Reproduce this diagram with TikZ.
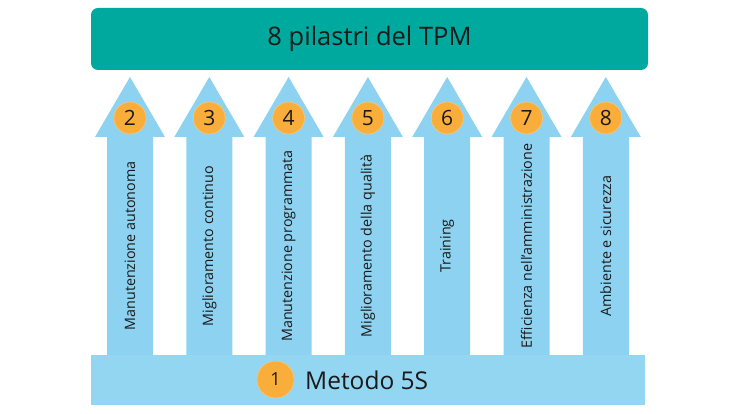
\documentclass[tikz,border=0pt]{standalone}
\usepackage{fontspec}
\setmainfont{Open Sans}
\definecolor{teal1}{HTML}{00A99D}
\definecolor{arrowblue}{HTML}{8DD2F0}
\definecolor{baseblue}{HTML}{93D6F2}
\definecolor{orange1}{HTML}{F9AE3B}
\definecolor{txt}{HTML}{1A1A1A}
\tikzset{
  pillar/.style={fill=arrowblue, draw=none},
  numdot/.style={circle, fill=orange1, draw=orange1!70!white, line width=0.6pt, minimum size=32pt, inner sep=0pt, text=txt, font=\fontsize{21}{21}\selectfont},
  pillartext/.style={rotate=90, text=txt, font=\fontsize{14.3}{14.3}\selectfont, inner sep=0pt}
}
\begin{document}
\begin{tikzpicture}[x=1pt,y=-1pt]
\useasboundingbox (0,0) rectangle (736,414);
\fill[white] (0,0) rectangle (736,414);
% top box
\node[fill=teal1, rounded corners=7pt, minimum width=557pt, minimum height=62pt, inner sep=0pt, text=txt, font=\fontsize{25.5}{25.5}\selectfont] (top) at (369.5,39) {8 pilastri del TPM};
% pillars
\foreach \i/\n/\t in {0/2/Manutenzione autonoma, 1/3/Miglioramento continuo, 2/4/Manutenzione programmata, 3/5/Miglioramento della qualità, 4/6/Training, 5/7/Efficienza nell’amministrazione, 6/8/Ambiente e sicurezza}{
  \pgfmathsetmacro{\cx}{130+79.3*\i}
  \fill[pillar] (\cx-23,356) -- (\cx-23,137) -- (\cx-35,137) -- (\cx,77) -- (\cx+35,137) -- (\cx+23,137) -- (\cx+23,356) -- cycle;
  \node[numdot] (c\n) at (\cx,118) {\n};
  \node[pillartext] (t\n) at (\cx,246) {\t};
}
% base
\node[fill=baseblue, minimum width=554pt, minimum height=50pt, inner sep=0pt] (base) at (368,380) {};
\node[numdot, minimum size=37pt, font=\fontsize{18}{18}\selectfont] (c1) at (275.5,379.5) {1};
\node[anchor=west, text=txt, font=\fontsize{24.5}{24.5}\selectfont, inner sep=0pt] (metodo) at (305,380) {Metodo 5S};
\end{tikzpicture}
\end{document}
